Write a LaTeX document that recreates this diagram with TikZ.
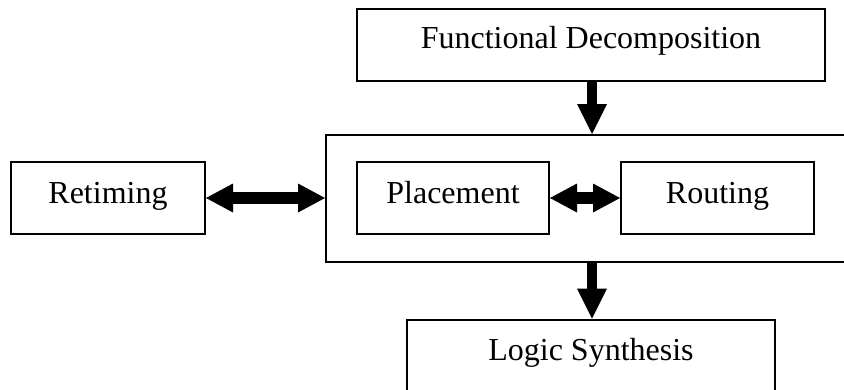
\documentclass[tikz,border=0pt]{standalone}
\usepackage{fontspec}
\setmainfont{Liberation Serif}
\usetikzlibrary{arrows.meta}

\tikzset{
  stage/.style={draw, line width=2pt, inner sep=0pt, text depth=7pt,
    font=\fontsize{32}{37}\selectfont},
  outerstage/.style={stage, line width=2.6pt},
  flow/.style={line width=10.5pt,
    -{Triangle[length=30pt, width=30pt, line width=0pt]}},
  swap/.style={line width=11.5pt,
    {Triangle[length=27pt, width=29pt, line width=0pt]}-{Triangle[length=27pt, width=29pt, line width=0pt]}}
}

\begin{document}
\begin{tikzpicture}[x=1pt, y=-1pt]
  \useasboundingbox (0,0) rectangle (844,389);

  % upper and lower stages
  \node[outerstage, minimum width=468pt, minimum height=72pt, text height=13pt]
    (func) at (591,45) {Functional Decomposition};
  \node[outerstage, minimum width=368pt, minimum height=72pt, text height=15pt]
    (logic) at (591,356) {Logic Synthesis};

  % physical design block with its two steps
  \node[stage, minimum width=534pt, minimum height=127pt]
    (phys) at (593,198.5) {};
  \node[stage, minimum width=192pt, minimum height=72pt, text height=17pt]
    (place) at (453,198) {Placement};
  \node[stage, minimum width=193pt, minimum height=72pt, text height=17pt]
    (route) at (717.5,198) {Routing};

  % retiming on the left
  \node[stage, minimum width=194pt, minimum height=72pt, text height=17pt]
    (retime) at (108,198) {Retiming};

  % connectors
  \coordinate (physin)  at (func.south |- phys.north);
  \coordinate (physout) at (logic.north |- phys.south);
  \draw[flow] ([xshift=1pt]func.south) -- ([xshift=1pt]physin);
  \draw[flow] ([xshift=1pt]physout) -- ([xshift=1pt]logic.north);
  \draw[swap] (retime.east) -- (retime.east -| phys.west);
  \draw[swap, line width=12pt] (place.east) -- (route.west);
\end{tikzpicture}
\end{document}
